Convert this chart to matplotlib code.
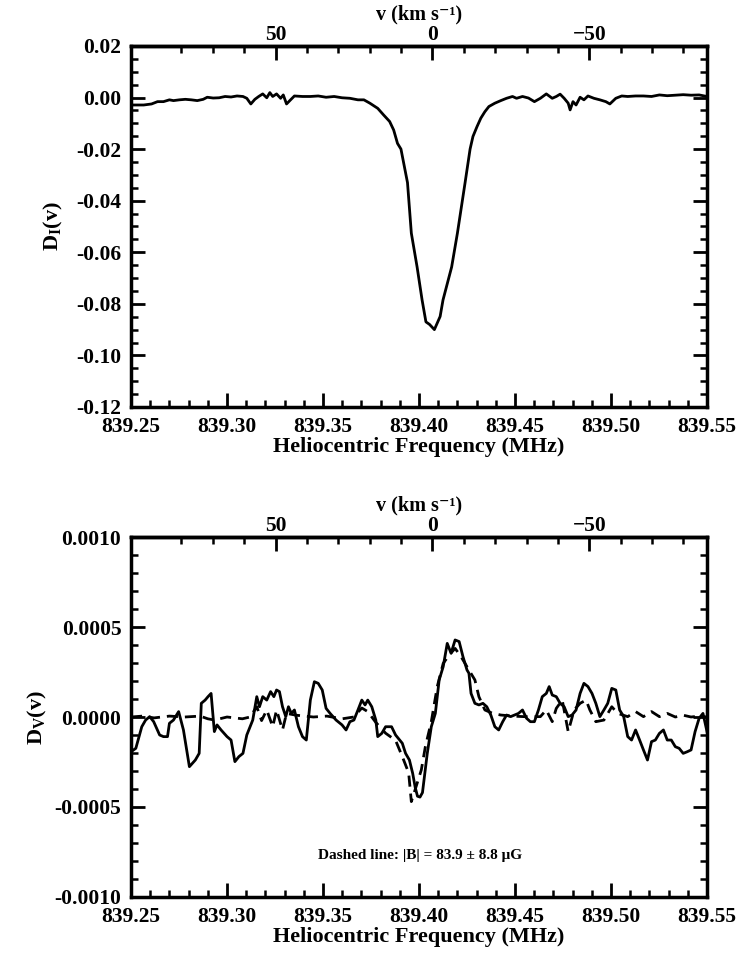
import numpy as np
import matplotlib.pyplot as plt
from matplotlib.ticker import MultipleLocator, FixedLocator, FormatStrFormatter, FuncFormatter

plt.rcParams['font.family'] = ['Liberation Serif', 'DejaVu Serif']
plt.rcParams['font.weight'] = 'bold'
plt.rcParams['mathtext.fontset'] = 'custom'
plt.rcParams['mathtext.rm'] = 'Liberation Serif:bold'
plt.rcParams['mathtext.it'] = 'Liberation Serif:bold'
plt.rcParams['mathtext.bf'] = 'Liberation Serif:bold'

# Stokes I profile (MHz, D_I)
freq_i = [839.2500, 839.2566, 839.2607, 839.2638, 839.2669, 839.2700, 839.2721, 839.2752,
          839.2783, 839.2814, 839.2845, 839.2876, 839.2897, 839.2928, 839.2959, 839.2990,
          839.3021, 839.3052, 839.3083, 839.3103, 839.3124, 839.3145, 839.3165, 839.3186,
          839.3207, 839.3223, 839.3238, 839.3258, 839.3279, 839.3293, 839.3310, 839.3331,
          839.3351, 839.3393, 839.3434, 839.3475, 839.3516, 839.3558, 839.3599, 839.3640,
          839.3682, 839.3713, 839.3744, 839.3785, 839.3816, 839.3847, 839.3868, 839.3888,
          839.3906, 839.3940, 839.3960, 839.3990, 839.4016, 839.4036, 839.4055, 839.4080,
          839.4110, 839.4125, 839.4170, 839.4200, 839.4240, 839.4266, 839.4281, 839.4302,
          839.4322, 839.4343, 839.4364, 839.4395, 839.4426, 839.4456, 839.4487, 839.4508,
          839.4539, 839.4570, 839.4601, 839.4632, 839.4663, 839.4694, 839.4715, 839.4735,
          839.4756, 839.4777, 839.4787, 839.4802, 839.4818, 839.4839, 839.4859, 839.4880,
          839.4911, 839.4942, 839.4973, 839.4994, 839.5025, 839.5056, 839.5087, 839.5128,
          839.5169, 839.5211, 839.5252, 839.5293, 839.5335, 839.5376, 839.5417, 839.5459,
          839.5500]
d_i = [-0.0029, -0.0029, -0.0025, -0.0016, -0.0016, -0.0009, -0.0012, -0.0009,
       -0.0007, -0.0009, -0.0012, -0.0007, 0.0001, -0.0002, -0.0001, 0.0004,
       0.0002, 0.0006, 0.0004, -0.0003, -0.0025, -0.0007, 0.0004, 0.0014,
       -0.0001, 0.0019, 0.0004, 0.0014, -0.0003, 0.0010, -0.0025, -0.0009,
       0.0006, 0.0004, 0.0004, 0.0006, 0.0001, 0.0004, -0.0001, -0.0003,
       -0.0009, -0.0009, -0.0022, -0.0042, -0.0068, -0.0093, -0.0126, -0.0178,
       -0.0200, -0.0330, -0.0526, -0.0657, -0.0785, -0.0870, -0.0880, -0.0900,
       -0.0849, -0.0785, -0.0657, -0.0526, -0.0330, -0.0200, -0.0151, -0.0113,
       -0.0080, -0.0055, -0.0035, -0.0022, -0.0012, -0.0003, 0.0004, -0.0003,
       0.0004, -0.0002, -0.0016, -0.0003, 0.0014, -0.0003, 0.0004, 0.0013,
       -0.0003, -0.0022, -0.0048, -0.0016, -0.0029, 0.0001, -0.0009, 0.0006,
       -0.0003, -0.0009, -0.0016, -0.0025, -0.0003, 0.0006, 0.0004, 0.0006,
       0.0006, 0.0004, 0.0010, 0.0007, 0.0009, 0.0011, 0.0009, 0.0010,
       0.0004]

# Stokes V profile, data (solid), units of 1e-4
freq_v = [839.2500, 839.2525, 839.2556, 839.2576, 839.2597, 839.2618, 839.2649, 839.2669,
          839.2690, 839.2700, 839.2721, 839.2748, 839.2773, 839.2804, 839.2835, 839.2855,
          839.2866, 839.2886, 839.2901, 839.2917, 839.2934, 839.2948, 839.2969, 839.3000,
          839.3021, 839.3041, 839.3062, 839.3083, 839.3103, 839.3134, 839.3155, 839.3169,
          839.3186, 839.3207, 839.3227, 839.3244, 839.3258, 839.3273, 839.3289, 839.3306,
          839.3320, 839.3335, 839.3351, 839.3372, 839.3393, 839.3413, 839.3434, 839.3455,
          839.3475, 839.3496, 839.3516, 839.3537, 839.3568, 839.3599, 839.3620, 839.3640,
          839.3661, 839.3682, 839.3702, 839.3719, 839.3733, 839.3754, 839.3775, 839.3785,
          839.3806, 839.3826, 839.3857, 839.3878, 839.3899, 839.3913, 839.3930, 839.3950,
          839.3967, 839.3980, 839.3992, 839.4005, 839.4018, 839.4043, 839.4064, 839.4085,
          839.4105, 839.4126, 839.4147, 839.4167, 839.4188, 839.4209, 839.4229, 839.4250,
          839.4260, 839.4271, 839.4291, 839.4312, 839.4333, 839.4353, 839.4374, 839.4395,
          839.4415, 839.4436, 839.4456, 839.4477, 839.4498, 839.4518, 839.4539, 839.4560,
          839.4580, 839.4601, 839.4622, 839.4642, 839.4663, 839.4678, 839.4694, 839.4715,
          839.4735, 839.4756, 839.4777, 839.4797, 839.4818, 839.4839, 839.4859, 839.4880,
          839.4901, 839.4921, 839.4942, 839.4963, 839.4983, 839.5004, 839.5025, 839.5045,
          839.5066, 839.5087, 839.5107, 839.5128, 839.5149, 839.5169, 839.5190, 839.5211,
          839.5231, 839.5252, 839.5273, 839.5293, 839.5314, 839.5335, 839.5355, 839.5376,
          839.5397, 839.5417, 839.5438, 839.5459, 839.5479, 839.5500]
d_v = [-1.93, -1.74, -0.54, -0.17, 0.02, -0.26, -1.00, -1.09,
       -1.09, -0.35, -0.17, 0.30, -0.72, -2.76, -2.39, -2.02,
       0.76, 0.94, 1.13, 1.31, -0.81, -0.44, -0.72, -1.09,
       -1.28, -2.48, -2.20, -2.02, -1.00, -0.17, 1.13, 0.57,
       1.13, 0.94, 1.41, 1.13, 1.50, 1.41, 0.57, 0.02,
       0.57, 0.20, 0.39, -0.54, -1.09, -1.28, 0.94, 1.96,
       1.87, 1.50, 0.48, 0.20, -0.17, -0.44, -0.72, -0.26,
       -0.17, 0.39, 0.94, 0.67, 0.94, 0.57, -0.17, -1.09,
       -0.91, -0.54, -0.54, -1.00, -1.28, -1.46, -2.02, -2.39,
       -3.13, -3.90, -4.40, -4.45, -4.20, -2.02, -0.54, 0.20,
       2.06, 2.80, 4.09, 3.54, 4.28, 4.19, 3.35, 2.61,
       2.43, 1.31, 0.76, 0.67, 0.76, 0.57, 0.11, -0.54,
       -0.72, -0.26, 0.11, 0.02, 0.11, 0.20, 0.39, -0.07,
       -0.26, -0.26, 0.39, 1.13, 1.31, 1.69, 1.22, 1.13,
       0.76, 0.57, 0.02, 0.11, 0.39, 1.31, 1.87, 1.69,
       1.31, 0.76, 0.02, 0.39, 0.76, 1.59, 1.50, 0.39,
       0.02, -1.09, -1.28, -0.72, -1.28, -1.83, -2.39, -1.37,
       -1.28, -0.91, -0.72, -1.28, -1.28, -1.65, -1.74, -2.02,
       -1.93, -1.83, -0.81, -0.07, 0.20, -0.81]

# Stokes V fit (dashed), units of 1e-4
freq_fit = [839.2500, 839.2560, 839.2620, 839.2700, 839.2780, 839.2860, 839.2900, 839.2935,
            839.3000, 839.3080, 839.3120, 839.3155, 839.3180, 839.3207, 839.3238, 839.3258,
            839.3289, 839.3310, 839.3360, 839.3450, 839.3520, 839.3600, 839.3660, 839.3702,
            839.3733, 839.3775, 839.3826, 839.3878, 839.3913, 839.3946, 839.3960, 839.3975,
            839.4012, 839.4033, 839.4064, 839.4095, 839.4126, 839.4157, 839.4188, 839.4219,
            839.4260, 839.4291, 839.4312, 839.4343, 839.4384, 839.4426, 839.4487, 839.4549,
            839.4632, 839.4663, 839.4694, 839.4715, 839.4746, 839.4777, 839.4808, 839.4839,
            839.4870, 839.4890, 839.4921, 839.4963, 839.5004, 839.5035, 839.5087, 839.5128,
            839.5169, 839.5211, 839.5252, 839.5293, 839.5335, 839.5376, 839.5417, 839.5459,
            839.5500]
d_fit = [0.00, 0.05, -0.05, 0.05, 0.00, 0.05, -0.10, -0.17,
         0.00, -0.10, 0.00, 0.57, -0.20, 0.39, -0.54, 0.39,
         -0.72, 0.20, 0.10, 0.00, 0.05, -0.10, 0.00, 0.50,
         0.30, -0.30, -0.90, -1.30, -2.20, -3.10, -4.70, -4.20,
         -2.94, -1.65, -0.26, 1.69, 2.98, 3.44, 3.81, 3.35,
         2.61, 2.06, 1.13, 0.39, 0.20, 0.11, 0.05, 0.02,
         0.02, 0.39, -0.26, 0.48, 0.94, -0.81, 0.39, 0.76,
         0.94, 0.39, -0.26, -0.17, 0.57, 0.20, 0.02, 0.30,
         0.02, 0.30, 0.02, 0.20, 0.00, 0.10, 0.00, 0.05,
         0.00]

vel_major = [50, 0, -50]
vel_minor = [80, 70, 60, 40, 30, 20, 10, -10, -20, -30, -40, -60, -70, -80]

f0 = 839.4070   # MHz at v = 0
kms_per_mhz = 612.0


def f2v(f):
    return (f0 - f) * kms_per_mhz


def v2f(v):
    return f0 - v / kms_per_mhz


def vel_fmt(v, pos):
    return '%d' % round(v) if v >= 0 else '\u2212%d' % round(-v)


def style_axes(ax):
    for s in ax.spines.values():
        s.set_linewidth(2.5)
    ax.tick_params(axis='both', which='both', direction='in', top=False, right=True,
                   labelsize=15.5, width=2, pad=7)
    ax.tick_params(which='major', length=10)
    ax.tick_params(which='minor', length=5, width=1.8)
    ax.set_xlim(839.25, 839.55)
    ax.xaxis.set_major_locator(MultipleLocator(0.05))
    ax.xaxis.set_minor_locator(MultipleLocator(0.01))
    ax.xaxis.set_major_formatter(FormatStrFormatter('%.2f'))
    ax.set_xlabel('Heliocentric Frequency (MHz)', fontsize=16, fontweight='bold', labelpad=0)
    sec = ax.secondary_xaxis('top', functions=(f2v, v2f))
    sec.spines['top'].set_linewidth(2.5)
    sec.xaxis.set_major_locator(FixedLocator(vel_major))
    sec.xaxis.set_minor_locator(FixedLocator(vel_minor))
    sec.xaxis.set_major_formatter(FuncFormatter(vel_fmt))
    sec.tick_params(which='both', direction='in', labelsize=15.5, width=2, pad=1)
    sec.tick_params(which='major', length=10)
    sec.tick_params(which='minor', length=5, width=1.8)
    sec.set_xlabel('v (km s\u207b\u00b9)', fontsize=14.5, fontweight='bold', labelpad=4)
    return sec


fig = plt.figure(figsize=(7.39, 9.61), dpi=100)
ax1 = fig.add_axes([0.1773, 0.5765, 0.7794, 0.3757])
ax2 = fig.add_axes([0.1773, 0.0666, 0.7794, 0.3746])

ax1.plot(freq_i, d_i, color='black', linewidth=2.0)
style_axes(ax1)
ax1.set_ylim(-0.12, 0.02)
ax1.yaxis.set_major_locator(MultipleLocator(0.02))
ax1.yaxis.set_minor_locator(MultipleLocator(0.005))
ax1.yaxis.set_major_formatter(FormatStrFormatter('%.2f'))
ax1.set_ylabel('D$_\\mathrm{I}$(v)', fontsize=16, fontweight='bold', labelpad=8)

ax2.plot(freq_v, np.array(d_v) * 1e-4, color='black', linewidth=2.0)
ax2.plot(freq_fit, np.array(d_fit) * 1e-4, color='black', linewidth=2.0,
         linestyle=(0, (4, 2.5)))
style_axes(ax2)
ax2.set_ylim(-0.001, 0.001)
ax2.yaxis.set_major_locator(MultipleLocator(0.0005))
ax2.yaxis.set_minor_locator(MultipleLocator(0.0001))
ax2.yaxis.set_major_formatter(FormatStrFormatter('%.4f'))
ax2.set_ylabel('D$_\\mathrm{V}$(v)', fontsize=16, fontweight='bold', labelpad=4)
ax2.text(839.4005, -0.00077, 'Dashed line: |B| = 83.9 \u00b1 8.8 \u03bcG',
         ha='center', va='center', fontsize=11, fontweight='bold')

fig.savefig('out.png', dpi=100)
